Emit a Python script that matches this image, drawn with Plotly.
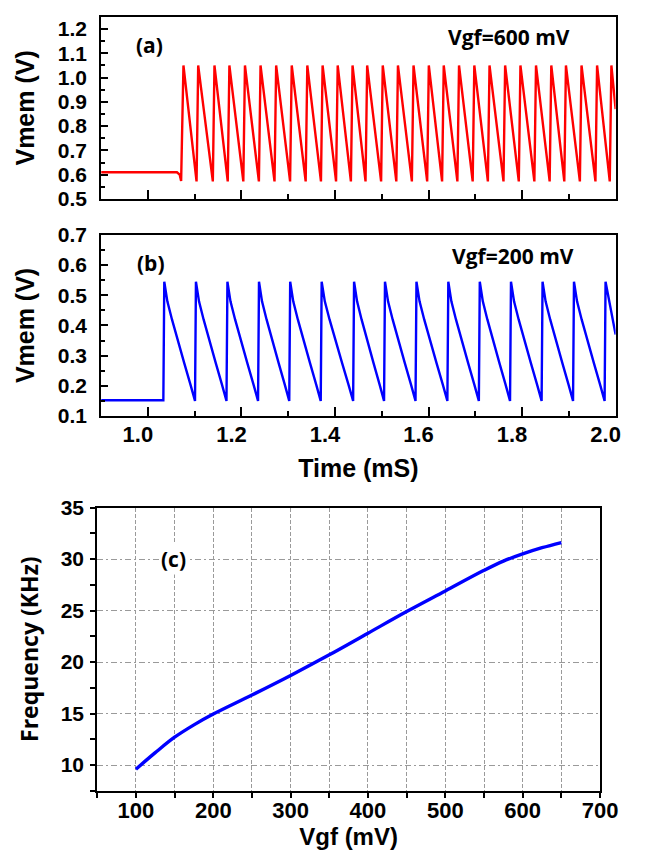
import plotly.graph_objects as go

# ---------------- data ----------------
# Panel (a): Vgf = 600 mV
a_rest_t = [0.90, 1.062, 1.068, 1.071]
a_rest_v = [0.610, 0.610, 0.600, 0.574]
a_peak_t = [1.076, 1.1075, 1.1423, 1.1742, 1.2075, 1.2408, 1.2742, 1.3075, 1.3408,
            1.3735, 1.4058, 1.4375, 1.4688, 1.5021, 1.5346, 1.5679, 1.6006, 1.6325,
            1.6652, 1.6979, 1.7304, 1.7638, 1.7965, 1.8298, 1.8625, 1.8938, 1.9271,
            1.9604, 1.9910]
a_peak_v = 1.05
a_trough_v = 0.572
a_rise_ms = 0.0035
a_end_t, a_end_v = 2.0, 0.87

# Panel (b): Vgf = 200 mV
b_rest_t = [0.90, 1.033]
b_rest_v = [0.152, 0.152]
b_peak_t = [1.035, 1.1027, 1.170, 1.2375, 1.3042, 1.3715, 1.4408, 1.5069, 1.5742,
            1.6423, 1.7096, 1.7763, 1.8438, 1.9110, 1.9785]
b_cycle_phase = [0.0, 0.03, 0.10, 0.25, 0.45, 0.65, 0.85, 1.0]
b_cycle_v = [0.545, 0.520, 0.480, 0.420, 0.345, 0.275, 0.205, 0.150]
b_rise_ms = 0.002
b_end_t, b_end_v = 2.0, 0.37

# Panel (c): frequency vs Vgf
vgf = [100, 125, 150, 175, 200, 250, 300, 350, 400, 450, 500, 550, 575, 600, 625, 650]
freq = [9.6, 11.2, 12.7, 13.9, 14.95, 16.8, 18.7, 20.7, 22.8, 24.9, 26.9, 28.9,
        29.8, 30.5, 31.1, 31.6]

# ---------------- build waveforms ----------------
at, av = list(a_rest_t), list(a_rest_v)
for i, tp in enumerate(a_peak_t):
    if i > 0:
        at.append(tp - a_rise_ms)
        av.append(a_trough_v)
    at.append(tp)
    av.append(a_peak_v)
at.append(a_end_t)
av.append(a_end_v)

bt, bv = list(b_rest_t), list(b_rest_v)
for i, tp in enumerate(b_peak_t):
    if i + 1 < len(b_peak_t):
        span = b_peak_t[i + 1] - tp - b_rise_ms
        for ph, vv in zip(b_cycle_phase, b_cycle_v):
            bt.append(tp + ph * span)
            bv.append(vv)
    else:
        bt.append(tp)
        bv.append(b_cycle_v[0])
bt.append(b_end_t)
bv.append(b_end_v)

W, H = 655, 868
def px_x(a, b):
    return [a / W, b / W]
def px_y(top, bottom):
    return [1 - bottom / H, 1 - top / H]

ARIAL = "Liberation Sans"
SEGOE = "Open Sans"

fig = go.Figure()
fig.add_trace(go.Scatter(x=at, y=av, mode="lines", line=dict(color="#ff0000", width=2.4),
                         xaxis="x", yaxis="y", showlegend=False, hoverinfo="skip"))
fig.add_trace(go.Scatter(x=bt, y=bv, mode="lines", line=dict(color="#0000ff", width=2.4),
                         xaxis="x2", yaxis="y2", showlegend=False, hoverinfo="skip"))
fig.add_trace(go.Scatter(x=vgf, y=freq, mode="lines", line=dict(color="#0000ff", width=3.4, shape="spline"),
                         xaxis="x3", yaxis="y3", showlegend=False, hoverinfo="skip"))

axis_common = dict(showline=True, linecolor="black", linewidth=2, mirror=True,
                   showgrid=False, zeroline=False)

tick_font_y = dict(family=ARIAL, size=21, color="black", weight="bold")
tick_font_x = dict(family=ARIAL, size=22, color="black", weight="bold")
title_font = dict(family=ARIAL, size=25, color="black", weight="bold")

c_xdom = px_x(100, 617)
c_ydom = px_y(509, 800)

fig.update_layout(
    width=W, height=H,
    margin=dict(l=0, r=0, t=0, b=0),
    paper_bgcolor="white", plot_bgcolor="white",
    xaxis=dict(domain=px_x(104, 633), anchor="y", range=[0.9, 2.0],
               dtick=0.2, tick0=0, ticks="inside", ticklen=9, tickwidth=1.5, tickcolor="black",
               minor=dict(dtick=0.1, tick0=0, ticks="inside", ticklen=5, tickwidth=1.5, tickcolor="black"),
               showticklabels=False, **axis_common),
    yaxis=dict(domain=px_y(5, 192), anchor="x", range=[0.5, 1.25],
               dtick=0.1, tick0=0, ticks="inside", ticklen=7, tickwidth=1.5, tickcolor="black",
               minor=dict(dtick=0.05, tick0=0, ticks="inside", ticklen=4, tickwidth=1.5, tickcolor="black"),
               tickformat=".1f", tickfont=tick_font_y, ticklabelstandoff=8,
               title=dict(text="Vmem (V)", font=title_font, standoff=16), **axis_common),
    xaxis2=dict(domain=px_x(104, 633), anchor="y2", range=[0.9, 2.0],
                dtick=0.2, tick0=0, ticks="inside", ticklen=9, tickwidth=1.5, tickcolor="black",
                minor=dict(dtick=0.1, tick0=0, ticks="inside", ticklen=5, tickwidth=1.5, tickcolor="black"),
                tickformat=".1f", tickfont=tick_font_x, ticklabelstandoff=-2, ticklabelshift=-10,
                title=dict(text="Time (mS)", font=title_font, standoff=13), **axis_common),
    yaxis2=dict(domain=px_y(229, 415), anchor="x2", range=[0.1, 0.7],
                dtick=0.1, tick0=0, ticks="inside", ticklen=7, tickwidth=1.5, tickcolor="black",
                minor=dict(dtick=0.05, tick0=0, ticks="inside", ticklen=4, tickwidth=1.5, tickcolor="black"),
                tickformat=".1f", tickfont=tick_font_y, ticklabelstandoff=8,
                title=dict(text="Vmem (V)", font=title_font, standoff=16), **axis_common),
    xaxis3=dict(domain=c_xdom, anchor="y3", range=[50, 700],
                dtick=100, tick0=0, ticks="outside", ticklen=5, tickwidth=1.5, tickcolor="black",
                showgrid=True, gridcolor="#9a9a9a", gridwidth=1, griddash="4px,2px",
                minor=dict(dtick=50, tick0=0, ticks="outside", ticklen=5, tickwidth=1.5, tickcolor="black",
                           showgrid=True, gridcolor="#9a9a9a", gridwidth=1, griddash="4px,2px"),
                tickfont=tick_font_x, ticklabelstandoff=-6,
                title=dict(text="Vgf (mV)", font=dict(family=ARIAL, size=24, color="black", weight="bold"), standoff=2),
                showline=True, linecolor="black", linewidth=2, mirror=True, zeroline=False),
    yaxis3=dict(domain=c_ydom, anchor="x3", range=[7.5, 35],
                dtick=5, tick0=0, ticks="outside", ticklen=5, tickwidth=1.5, tickcolor="black",
                showgrid=True, gridcolor="#9a9a9a", gridwidth=1, griddash="6px,3px,2px,3px",
                minor=dict(dtick=2.5, tick0=0, ticks="outside", ticklen=5, tickwidth=1.5, tickcolor="black",
                           showgrid=False),
                tickfont=dict(family=ARIAL, size=21, color="black", weight="bold"), ticklabelstandoff=2,
                title=dict(text="Frequency (KHz)", font=dict(family=SEGOE, size=23, color="black", weight="bold"), standoff=16),
                showline=True, linecolor="black", linewidth=2, mirror=True, zeroline=False),
    # overlay axes giving the inner half of the crossing ticks in panel (c)
    xaxis4=dict(domain=c_xdom, anchor="y3", overlaying="x3", range=[50, 700],
                dtick=50, tick0=0, ticks="inside", ticklen=4, tickwidth=1.5, tickcolor="black",
                showticklabels=False, showgrid=False, showline=False, zeroline=False),
    yaxis4=dict(domain=c_ydom, anchor="x3", overlaying="y3", range=[7.5, 35],
                dtick=2.5, tick0=0, ticks="inside", ticklen=4, tickwidth=1.5, tickcolor="black",
                showticklabels=False, showgrid=False, showline=False, zeroline=False),
)

ann_font = dict(family=SEGOE, size=21, color="black", weight="bold")
fig.add_annotation(x=1.003, y=1.135, xref="x", yref="y", text="(a)", showarrow=False, font=ann_font)
fig.add_annotation(x=1.7725, y=1.167, xref="x", yref="y", text="Vgf=600 mV", showarrow=False, font=ann_font)
fig.add_annotation(x=1.007, y=0.608, xref="x2", yref="y2", text="(b)", showarrow=False, font=ann_font)
fig.add_annotation(x=1.781, y=0.630, xref="x2", yref="y2", text="Vgf=200 mV", showarrow=False, font=ann_font)
fig.add_annotation(x=149, y=30, xref="x3", yref="y3", text="(c)", showarrow=False,
                   font=dict(family=SEGOE, size=21, color="black", weight="bold"), bgcolor="white")

fig.write_html("out.html")
